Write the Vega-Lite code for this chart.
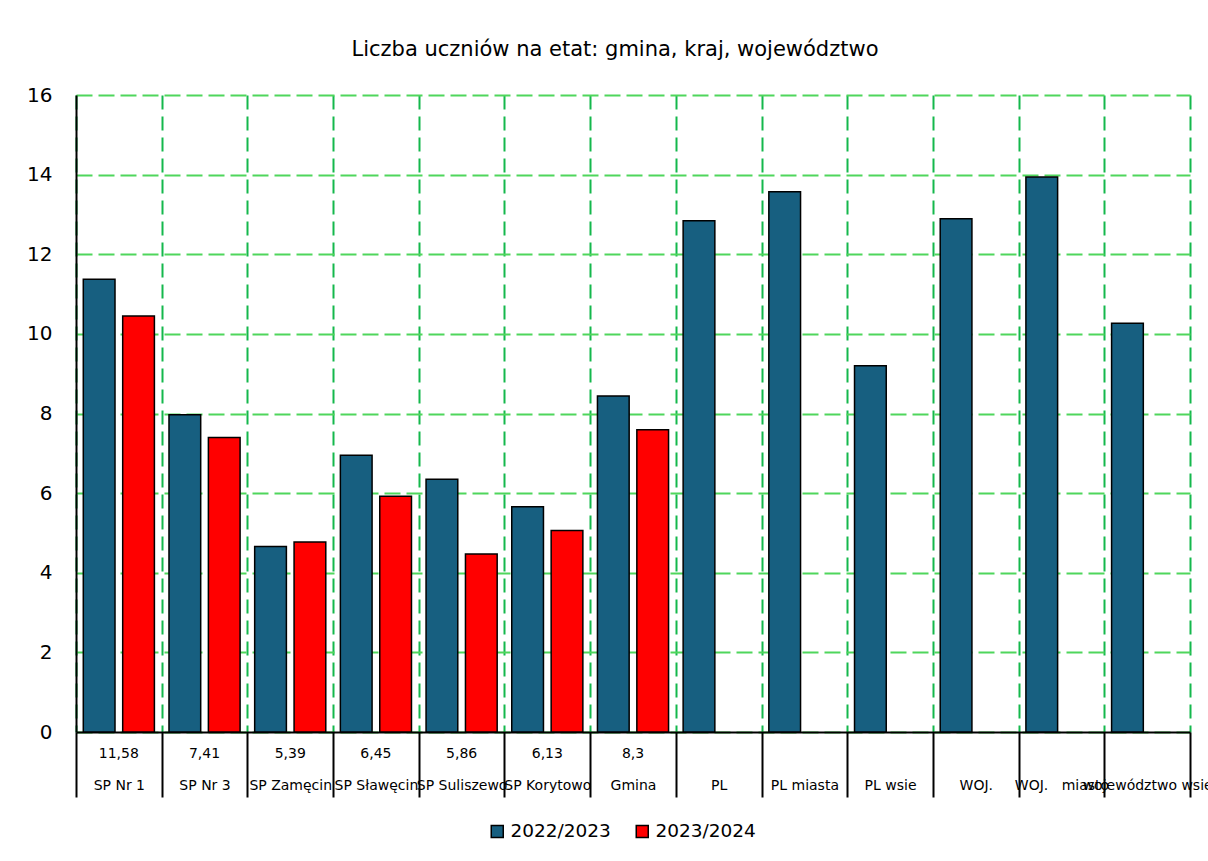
{
  "$schema": "https://vega.github.io/schema/vega-lite/v6.json",
  "width": 1114,
  "height": 637,
  "autosize": {"type": "none"},
  "padding": {"left": 76, "top": 95, "right": 18, "bottom": 129},
  "background": "white",
  "title": {
    "text": "Liczba uczniów na etat: gmina, kraj, województwo",
    "font": "DejaVu Sans",
    "fontSize": 21,
    "fontWeight": "normal",
    "color": "black",
    "anchor": "middle",
    "dx": -18,
    "offset": 25
  },
  "config": {
    "view": {"stroke": null},
    "font": "DejaVu Sans"
  },
  "datasets": {
    "bars": [
      {"category": "SP Nr 1", "year": "2022/2023", "value": 11.37},
      {"category": "SP Nr 1", "year": "2023/2024", "value": 10.45},
      {"category": "SP Nr 3", "year": "2022/2023", "value": 7.97},
      {"category": "SP Nr 3", "year": "2023/2024", "value": 7.4},
      {"category": "SP Zamęcin", "year": "2022/2023", "value": 4.66},
      {"category": "SP Zamęcin", "year": "2023/2024", "value": 4.77},
      {"category": "SP Sławęcin", "year": "2022/2023", "value": 6.95},
      {"category": "SP Sławęcin", "year": "2023/2024", "value": 5.92},
      {"category": "SP Suliszewo", "year": "2022/2023", "value": 6.35},
      {"category": "SP Suliszewo", "year": "2023/2024", "value": 4.47},
      {"category": "SP Korytowo", "year": "2022/2023", "value": 5.66},
      {"category": "SP Korytowo", "year": "2023/2024", "value": 5.06},
      {"category": "Gmina", "year": "2022/2023", "value": 8.44},
      {"category": "Gmina", "year": "2023/2024", "value": 7.59},
      {"category": "PL", "year": "2022/2023", "value": 12.84},
      {"category": "PL", "year": "2023/2024", "value": null},
      {"category": "PL miasta", "year": "2022/2023", "value": 13.57},
      {"category": "PL miasta", "year": "2023/2024", "value": null},
      {"category": "PL wsie", "year": "2022/2023", "value": 9.2},
      {"category": "PL wsie", "year": "2023/2024", "value": null},
      {"category": "WOJ.", "year": "2022/2023", "value": 12.89},
      {"category": "WOJ.", "year": "2023/2024", "value": null},
      {"category": "WOJ.   miasto", "year": "2022/2023", "value": 13.94},
      {"category": "WOJ.   miasto", "year": "2023/2024", "value": null},
      {"category": "województwo wsie", "year": "2022/2023", "value": 10.27},
      {"category": "województwo wsie", "year": "2023/2024", "value": null}
    ],
    "table": [
      {"category": "SP Nr 1", "tab": "11,58"},
      {"category": "SP Nr 3", "tab": "7,41"},
      {"category": "SP Zamęcin", "tab": "5,39"},
      {"category": "SP Sławęcin", "tab": "6,45"},
      {"category": "SP Suliszewo", "tab": "5,86"},
      {"category": "SP Korytowo", "tab": "6,13"},
      {"category": "Gmina", "tab": "8,3"}
    ]
  },
  "layer": [
    {
      "data": {"name": "bars"},
      "mark": {"type": "bar", "stroke": "black", "strokeWidth": 1.5},
      "encoding": {
        "x": {
          "field": "category",
          "type": "nominal",
          "sort": null,
          "scale": {
            "domain": ["SP Nr 1", "SP Nr 3", "SP Zamęcin", "SP Sławęcin", "SP Suliszewo", "SP Korytowo", "Gmina", "PL", "PL miasta", "PL wsie", "WOJ.", "WOJ.   miasto", "województwo wsie"],
            "paddingInner": 0,
            "paddingOuter": 0
          },
          "axis": {
            "title": null,
            "labelAngle": 0,
            "labelFontSize": 14,
            "labelFont": "DejaVu Sans",
            "labelColor": "black",
            "labelOverlap": false,
            "labelBound": false,
            "labelLimit": 0,
            "labelPadding": -19,
            "labelBaseline": "top",
            "labelExpr": "replace(datum.label, '   ', '\u00a0\u00a0\u00a0')",
            "tickBand": "extent",
            "tickSize": 65,
            "tickColor": "black",
            "tickWidth": 2,
            "domainColor": "black",
            "domainWidth": 2,
            "grid": true,
            "gridColor": "#14b84c",
            "gridDash": [14, 7],
            "gridWidth": 2
          }
        },
        "xOffset": {
          "field": "year",
          "type": "nominal",
          "scale": {"paddingInner": 0.195, "paddingOuter": 0.185}
        },
        "y": {
          "field": "value",
          "type": "quantitative",
          "scale": {"domain": [0, 16]},
          "axis": {
            "title": null,
            "values": [0, 2, 4, 6, 8, 10, 12, 14, 16],
            "labelFontSize": 20,
            "labelColor": "black",
            "labelPadding": 24,
            "ticks": false,
            "domainColor": "black",
            "domainWidth": 2,
            "gridColor": "#4fd65c",
            "gridDash": [16, 6],
            "gridWidth": 2
          }
        },
        "color": {
          "field": "year",
          "type": "nominal",
          "scale": {"domain": ["2022/2023", "2023/2024"], "range": ["#175f80", "#ff0000"]},
          "legend": {
            "title": null,
            "orient": "none",
            "legendX": 412,
            "legendY": 727,
            "direction": "horizontal",
            "symbolType": "square",
            "symbolSize": 144,
            "symbolStrokeColor": "black",
            "symbolStrokeWidth": 1.5,
            "labelFontSize": 18.5,
            "labelColor": "black",
            "labelOffset": 4,
            "columnPadding": 22
          }
        }
      }
    },
    {
      "data": {"name": "table"},
      "mark": {"type": "text", "fontSize": 14, "color": "black", "baseline": "middle", "dy": 22},
      "encoding": {
        "x": {"field": "category", "type": "nominal", "sort": null},
        "y": {"datum": 0, "type": "quantitative"},
        "text": {"field": "tab"}
      }
    }
  ]
}
